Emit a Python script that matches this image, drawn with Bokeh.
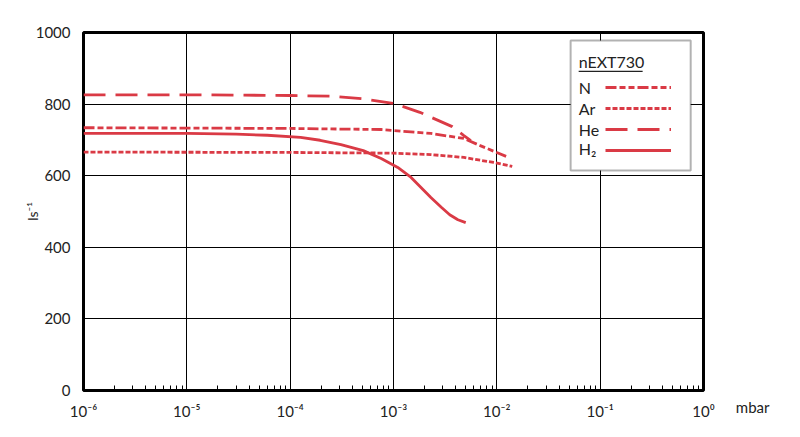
from bokeh.plotting import figure
from bokeh.models import (FixedTicker, CustomJSTickFormatter, Legend, LegendItem,
                          BoxAnnotation, Label, Range1d, Title)
from bokeh.embed import file_html
from bokeh.resources import INLINE

# ---------------- data ----------------
he_p = [1e-6, 1e-5, 1e-4, 2.5e-4, 5e-4, 1e-3, 1.8e-3, 3.7e-3, 4.8e-3, 5.6e-3]
he_v = [826, 826, 824, 822, 815, 802, 777, 737, 712, 698]

n_p = [1e-6, 1e-4, 7.6e-4, 2.3e-3, 4.8e-3, 6.9e-3, 1.23e-2]
n_v = [734, 732, 729, 718, 704, 684, 654]

ar_p = [1e-6, 1e-4, 1e-3, 2.3e-3, 4.8e-3, 9.3e-3, 1.41e-2]
ar_v = [666, 665, 663, 659, 651, 637, 626]

h2_p = [1e-6, 1e-5, 3e-5, 6e-5, 1.26e-4, 1.95e-4, 3.1e-4, 5.1e-4, 7.6e-4, 1.1e-3,
        1.48e-3, 2.3e-3, 2.9e-3, 3.5e-3, 4.2e-3, 5e-3]
h2_v = [718, 718, 716, 713, 707, 699, 687, 670, 648, 623,
        595, 539, 512, 491, 477, 469]

x_ticks = [1e-6, 1e-5, 1e-4, 1e-3, 1e-2, 1e-1, 1e0]
x_labels = ["10\u207b\u2076", "10\u207b\u2075", "10\u207b\u2074", "10\u207b\u00b3",
            "10\u207b\u00b2", "10\u207b\u00b9", "10\u2070"]
x_minor = [m * t for t in x_ticks[:-1] for m in range(2, 10)]
y_ticks = [0, 200, 400, 600, 800, 1000]

legend_title = "nEXT730"
series_names = ["N", "Ar", "He", "H\u2082"]
x_unit = "mbar"
y_unit = "ls\u207b\u00b9"

RED = "#DA3A45"
FONT = "Lato"
TXT = "#222222"

p = figure(width=792, height=429, x_axis_type="log", output_backend="svg",
           toolbar_location=None, min_border_left=83, min_border_right=89,
           min_border_top=32, min_border_bottom=39)
p.x_range = Range1d(1e-6, 1.0)
p.y_range = Range1d(0, 1000)
p.background_fill_color = "white"
p.border_fill_color = "white"
p.outline_line_color = "black"
p.outline_line_width = 3

# axes
label_js = "const labs = %s; const i = Math.round(Math.log10(tick)) + 6; return labs[i];" % (
    "[" + ",".join('"%s"' % s for s in x_labels) + "]")
xa = p.xaxis[0]
xa.ticker = FixedTicker(ticks=x_ticks, minor_ticks=x_minor)
xa.formatter = CustomJSTickFormatter(code=label_js)
xa.axis_line_color = None
xa.major_tick_line_color = None
xa.minor_tick_in = 5
xa.minor_tick_out = 0
xa.minor_tick_line_color = "black"
xa.minor_tick_line_width = 1
xa.major_label_standoff = 5
xa.major_label_text_font = FONT
xa.major_label_text_font_size = "15px"
xa.major_label_text_color = TXT

ya = p.yaxis[0]
ya.ticker = FixedTicker(ticks=y_ticks)
ya.axis_line_color = None
ya.major_tick_line_color = None
ya.minor_tick_line_color = None
ya.major_label_standoff = 7
ya.major_label_text_font = FONT
ya.major_label_text_font_size = "15px"
ya.major_label_text_color = TXT
ya.axis_label = y_unit
ya.axis_label_text_font = FONT
ya.axis_label_text_font_size = "14px"
ya.axis_label_text_font_style = "normal"
ya.axis_label_text_color = TXT
ya.axis_label_standoff = -8

p.xgrid.grid_line_color = "black"
p.xgrid.grid_line_width = 1
p.ygrid.grid_line_color = "black"
p.ygrid.grid_line_width = 1

# unit of the x axis, right of the last tick label
p.add_layout(Title(text=x_unit, align="right", vertical_align="top", offset=-66,
                   standoff=-50, text_font=FONT, text_font_size="15px",
                   text_font_style="normal", text_color=TXT), "below")

# curves
rN = p.line(n_p, n_v, line_color=RED, line_width=2.8, line_dash="11 3 6 3 6 3")
rAr = p.line(ar_p, ar_v, line_color=RED, line_width=2.8, line_dash="5 2")
rHe = p.line(he_p, he_v, line_color=RED, line_width=2.8, line_dash="22 10")
rH2 = p.line(h2_p, h2_v, line_color=RED, line_width=2.8)

# legend box
p.add_layout(BoxAnnotation(left=10 ** -1.286, right=10 ** -0.124, top=977.6, bottom=614.5,
                           fill_color="white", fill_alpha=1, line_color="black",
                           line_width=2, level="annotation"))
p.add_layout(BoxAnnotation(left=10 ** -1.208, right=10 ** -0.589, top=893, bottom=889.5,
                           fill_color=TXT, fill_alpha=1, line_color=None,
                           level="annotation"))

legend = Legend(items=[LegendItem(label=" ", renderers=[r]) for r in (rN, rAr, rHe, rH2)],
                location=(522, 230), glyph_width=66, glyph_height=20, label_height=20,
                label_width=1, label_standoff=0, spacing=1, padding=0, margin=0,
                border_line_color=None, background_fill_alpha=0,
                label_text_font_size="1px")
p.add_layout(legend)

p.add_layout(Label(x=10 ** -1.208, y=919, text=legend_title, text_font=FONT,
                   text_font_size="16px", text_baseline="middle", text_color=TXT))
name_y = [846, 788, 729, 675]
for nm, yy in zip(series_names, name_y):
    p.add_layout(Label(x=10 ** -1.208, y=yy, text=nm, text_font=FONT,
                       text_font_size="16px", text_baseline="middle", text_color=TXT))

open("out.html", "w").write(file_html(p, INLINE))
